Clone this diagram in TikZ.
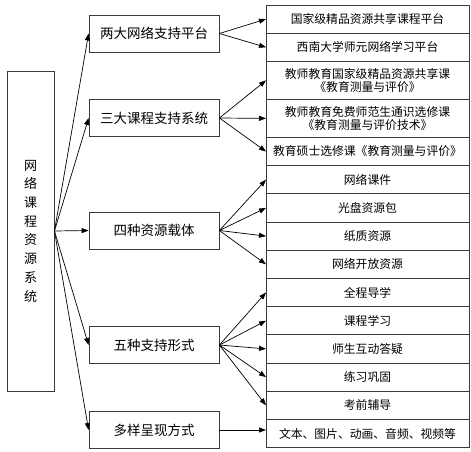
\documentclass[tikz,border=0pt]{standalone}
\usepackage{fontspec}
\setmainfont{Noto Sans CJK SC}
\usetikzlibrary{arrows.meta,positioning}
\definecolor{boxgray}{HTML}{3A3A3A}

\begin{document}
\begin{tikzpicture}[x=1pt,y=-1pt,
  node distance=0pt,
  rootbox/.style={draw=boxgray,line width=0.9pt,minimum width=47pt,
                  minimum height=320pt,inner sep=0pt,
                  font=\fontsize{13}{18.7}\selectfont},
  mid/.style={draw=boxgray,line width=0.8pt,minimum width=130pt,
              minimum height=37pt,inner sep=0pt,
              font=\fontsize{13.5}{16}\selectfont},
  leaf/.style={draw=boxgray,line width=0.8pt,minimum width=203pt,
               minimum height=28.2pt,inner sep=0pt,outer sep=0pt,align=center,
               font=\fontsize{11.8}{13.5}\selectfont},
  leaftwo/.style={leaf,minimum height=38pt},
  arrow/.style={-{Triangle[length=7pt,width=5pt]},line width=0.7pt,draw=black}]
\useasboundingbox (0,0) rectangle (471,452);
% left: the whole system
\node[rootbox] (root) at (30.5,231) {\parbox{13pt}{\centering
  网\\络\\课\\程\\资\\源\\系\\统}\hspace{15pt}};
% middle column
\node[mid] (twonet)   at (154,33.5)  {两大网络支持平台};
\node[mid] (threesys) at (154,118)   {三大课程支持系统};
\node[mid] (fourres)  at (154,230.5) {四种资源载体};
\node[mid] (fiveform) at (154,345)   {五种支持形式};
\node[mid] (multi)    at (154,430)   {多样呈现方式};
% right column
\node[leaf,anchor=north] (national) at (367.5,5) {国家级精品资源共享课程平台};
\node[leaf,below=of national] (swu) {西南大学师元网络学习平台};
\node[leaftwo,below=of swu] (sharecourse) {教师教育国家级精品资源共享课\\《教育测量与评价》};
\node[leaftwo,below=of sharecourse] (elective) {教师教育免费师范生通识选修课\\《教育测量与评价技术》};
\node[leaf,below=of elective] (master) {教育硕士选修课《教育测量与评价》};
\node[leaf,below=of master] (courseware) {网络课件};
\node[leaf,below=of courseware] (disc) {光盘资源包};
\node[leaf,below=of disc] (paper) {纸质资源};
\node[leaf,below=of paper] (openres) {网络开放资源};
\node[leaf,below=of openres] (guide) {全程导学};
\node[leaf,below=of guide] (study) {课程学习};
\node[leaf,below=of study] (qa) {师生互动答疑};
\node[leaf,below=of qa] (practice) {练习巩固};
\node[leaf,below=of practice] (exam) {考前辅导};
\node[leaf,below=of exam] (media) {文本、图片、动画、音频、视频等};
% connectors
\foreach \b in {twonet,threesys,fourres,fiveform,multi}
  \draw[arrow] (root.east)--(\b.west);
\foreach \a/\b in {twonet/national,twonet/swu,threesys/sharecourse,
                     threesys/elective,threesys/master,fourres/courseware,
                     fourres/disc,fourres/paper,fourres/openres,
                     fiveform/guide,fiveform/study,fiveform/qa,
                     fiveform/practice,fiveform/exam}
  \draw[arrow] (\a.east)--(\b.west);
\draw[arrow] (multi.east)--(multi.east -| media.west);
\end{tikzpicture}
\end{document}
